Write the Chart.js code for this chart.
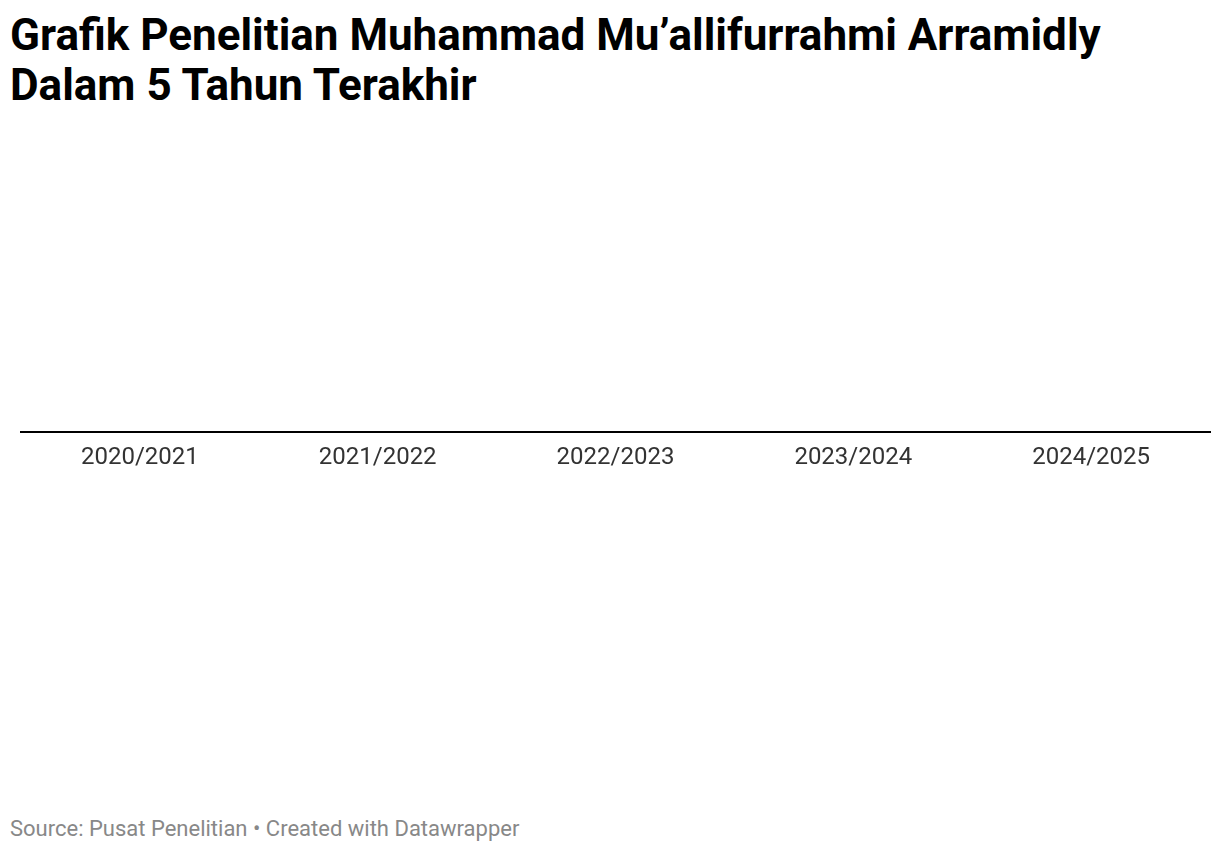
<!DOCTYPE html>
<html>
<head>
<meta charset="utf-8">
<script src="https://cdn.jsdelivr.net/npm/chart.js@4/dist/chart.umd.min.js"></script>
<style>
  html, body { margin: 0; padding: 0; background: #fff; }
  body { width: 1220px; height: 852px; position: relative; overflow: hidden; font-family: Roboto, sans-serif; }
  h1 {
    position: absolute; left: 10px; top: 10px; margin: 0;
    font: 700 44px/50px Roboto, sans-serif; color: #000;
  }
  #chartBox { position: absolute; left: 0; top: 121px; width: 1220px; height: 362px; }
  .footer {
    position: absolute; left: 10px; top: 817px;
    font: 400 22px/24px Roboto, sans-serif; color: #888;
  }
</style>
</head>
<body>
<h1>Grafik Penelitian Muhammad Mu’allifurrahmi Arramidly<br>Dalam 5 Tahun Terakhir</h1>
<div id="chartBox"><canvas id="researchChart"></canvas></div>
<div class="footer">Source: Pusat Penelitian • Created with Datawrapper</div>

<script>
// academic years shown on the axis
const years = ['2020/2021', '2021/2022', '2022/2023', '2023/2024', '2024/2025'];
// number of research items per year (nothing is drawn in the source)
const researchCount = [0, 0, 0, 0, 0];

document.addEventListener("DOMContentLoaded", () => {
  const ctx = document.getElementById('researchChart').getContext('2d');

  new Chart(ctx, {
    type: 'bar',
    data: {
      labels: years,
      datasets: [{
        label: 'Penelitian',
        data: researchCount,
        backgroundColor: '#1d81a2'
      }]
    },
    options: {
      responsive: true,
      maintainAspectRatio: false,
      animation: false,
      layout: { padding: { left: 21, right: 10, top: 0, bottom: 0 } },
      plugins: {
        legend: { display: false },
        tooltip: { enabled: false }
      },
      scales: {
        x: {
          grid: { display: false, drawTicks: false },
          border: { display: true, color: '#000', width: 2 },
          ticks: {
            color: '#333',
            padding: 11,
            font: { family: 'Roboto', size: 24 }
          }
        },
        y: {
          display: false,
          min: 0,
          max: 10
        }
      }
    }
  });
});
</script>
</body>
</html>
